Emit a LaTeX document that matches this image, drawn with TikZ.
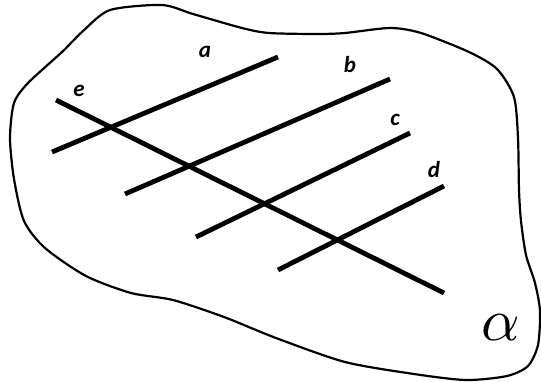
\documentclass[tikz,border=0pt]{standalone}
\usepackage{fontspec}
\newfontfamily\lblfont{Carlito}
\begin{document}
\begin{tikzpicture}[x=1pt,y=-1pt,
  thickline/.style={line width=4.8pt},
  blob/.style={line width=2.2pt,line join=round},
  lbl/.style={font=\lblfont\bfseries\itshape\fontsize{23}{23}\selectfont,anchor=base,inner sep=0pt}]
\useasboundingbox (0,0) rectangle (541,381);
\draw[blob] plot[smooth cycle,tension=0.45] coordinates {
 (110,10) (162,5) (193,14) (242,28) (269,33) (317,34) (345,33) (390,28)
 (421,33) (469,52) (497,69) (514,97) (518,138) (519,190) (521,221) (526,255)
 (535,283) (540,311) (538,345) (528,366) (507,376) (466,380) (414,374)
 (345,362) (276,338) (224,317) (173,300) (131,293) (86,276) (45,248)
 (24,221) (14,179) (10,138) (14,103) (28,83) (62,52) (83,31)};
\coordinate (a1) at (52,152); \coordinate (a2) at (278,57);
\coordinate (b1) at (125,194); \coordinate (b2) at (390,79);
\coordinate (c1) at (196,237); \coordinate (c2) at (410,133);
\coordinate (d1) at (278,270); \coordinate (d2) at (444,186);
\coordinate (e1) at (56,100); \coordinate (e2) at (444,293);
\draw[thickline] (a1) -- (a2);
\draw[thickline] (b1) -- (b2);
\draw[thickline] (c1) -- (c2);
\draw[thickline] (d1) -- (d2);
\draw[thickline] (e1) -- (e2);
\node[lbl] (la) at (205,57) {a};
\node[lbl] (lb) at (350,72) {b};
\node[lbl] (lc) at (395,125) {c};
\node[lbl] (ld) at (434,177) {d};
\node[lbl] (le) at (79,96) {e};
\node[inner sep=0pt] (alpha) at (501,328) {\scalebox{6}{$\alpha$}};
\end{tikzpicture}
\end{document}
